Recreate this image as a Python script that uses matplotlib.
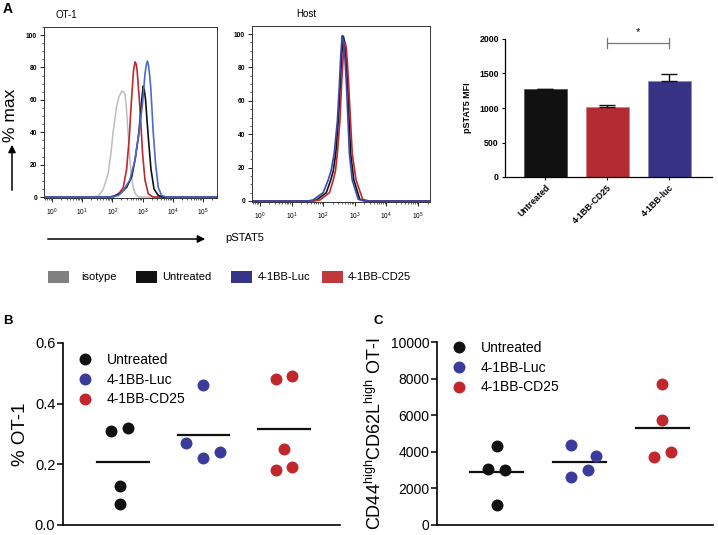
import numpy as np
import matplotlib
matplotlib.use("Agg")
import matplotlib.pyplot as plt
from matplotlib.lines import Line2D
from matplotlib.patches import Rectangle, FancyArrowPatch
from matplotlib.ticker import AutoMinorLocator, LogLocator, NullFormatter

plt.rcParams['font.family'] = ['Liberation Sans', 'DejaVu Sans']
plt.rcParams['mathtext.fontset'] = 'custom'
plt.rcParams['mathtext.rm'] = 'Liberation Sans'
plt.rcParams['mathtext.it'] = 'Liberation Sans:italic'
plt.rcParams['mathtext.bf'] = 'Liberation Sans:bold'

# ---------------- data ----------------
# Panel A, OT-1 histograms (log10 pSTAT5, % max)
ot1_iso_logx = [-0.27, 1.2, 1.53, 1.7, 1.86, 1.95, 2.03, 2.14, 2.22, 2.31, 2.37, 2.42, 2.46, 2.49, 2.54, 2.58, 2.63, 2.69, 2.76, 2.86, 5.47]
ot1_iso_y = [0, 0, 0.5, 5, 14.6, 27, 41, 56, 62, 65.4, 65, 63, 56, 47.5, 34, 23, 13, 6, 2, 0, 0]
ot1_cd25_logx = [-0.27, 2.0, 2.09, 2.25, 2.36, 2.47, 2.56, 2.60, 2.64, 2.70, 2.75, 2.79, 2.82, 2.87, 2.91, 2.96, 3.0, 3.08, 3.19, 3.35, 5.47]
ot1_cd25_y = [0, 0, 0.5, 3, 6, 17, 37, 50, 62, 78, 83.5, 82, 78, 66, 56, 40, 27, 10.5, 2, 0, 0]
ot1_untr_logx = [-0.27, 1.9, 2.03, 2.25, 2.47, 2.64, 2.75, 2.86, 2.94, 2.98, 3.02, 3.06, 3.10, 3.15, 3.19, 3.28, 3.38, 3.52, 3.69, 5.47]
ot1_untr_y = [0, 0, 0.5, 2, 6, 12.5, 23, 37, 52, 61, 68.5, 66, 60, 47, 37, 17, 5, 1, 0, 0]
ot1_luc_logx = [-0.27, 2.0, 2.2, 2.36, 2.58, 2.75, 2.89, 3.0, 3.08, 3.12, 3.16, 3.19, 3.22, 3.27, 3.31, 3.35, 3.43, 3.52, 3.63, 3.80, 5.47]
ot1_luc_y = [0, 0, 1, 4, 10.5, 23, 41, 58, 76, 81, 84, 82, 78, 68, 55, 41, 21, 6, 1, 0, 0]

# Panel A, Host histograms
host_luc_logx = [-0.25, 1.5, 1.68, 2.0, 2.16, 2.25, 2.35, 2.45, 2.51, 2.56, 2.60, 2.64, 2.69, 2.74, 2.83, 2.92, 3.11, 3.3, 5.38]
host_luc_y = [0, 0, 0.6, 5, 12.6, 18, 28.5, 48, 68.5, 88, 99, 96, 85, 68.5, 28.5, 12.6, 1, 0, 0]
host_untr_logx = [-0.25, 1.6, 1.79, 2.1, 2.24, 2.32, 2.40, 2.48, 2.54, 2.59, 2.64, 2.68, 2.73, 2.78, 2.87, 2.97, 3.16, 3.35, 5.38]
host_untr_y = [0, 0, 0.6, 5, 12.6, 18, 28.5, 48, 68.5, 88, 98.6, 95, 84, 68.5, 28.5, 12.6, 1, 0, 0]
host_cd25_logx = [-0.25, 1.7, 1.90, 2.2, 2.32, 2.39, 2.45, 2.53, 2.58, 2.64, 2.69, 2.73, 2.77, 2.81, 2.92, 3.04, 3.25, 3.45, 5.38]
host_cd25_y = [0, 0, 0.6, 5, 12.6, 18, 28.5, 48, 68.5, 88, 95.4, 92, 82, 68.5, 28.5, 12.6, 1, 0, 0]

# Panel A, bar chart
bar_labels = ["Untreated", "4-1BB-CD25", "4-1BB-luc"]
bar_values = [1270, 1010, 1390]
bar_errors = [10, 35, 100]

# Legend row
legend_labels = ["isotype", "Untreated", "4-1BB-Luc", "4-1BB-CD25"]

# Panel B
groups = ["Untreated", "4-1BB-Luc", "4-1BB-CD25"]
b_untr = [0.31, 0.32, 0.13, 0.07]
b_luc = [0.46, 0.27, 0.22, 0.24]
b_cd25 = [0.48, 0.49, 0.25, 0.18, 0.19]
b_untr_off = [-0.14, 0.06, -0.04, -0.04]
b_luc_off = [-0.01, -0.22, -0.01, 0.20]
b_cd25_off = [-0.10, 0.10, 0.0, -0.10, 0.10]

# Panel C
c_untr = [4340, 3070, 3000, 1070]
c_luc = [4380, 3760, 2980, 2600]
c_cd25 = [7690, 5730, 3980, 3710]
c_untr_off = [0.0, -0.105, 0.10, 0.0]
c_luc_off = [-0.105, 0.20, 0.10, -0.105]
c_cd25_off = [0.0, 0.0, 0.10, -0.10]

# colours
col_black = '#111111'
col_blue = '#3b3b9c'
col_red = '#c1272d'
hist_gray = '#bdbdbd'
hist_red = '#c0282d'
hist_blue1 = '#4a6acc'
hist_blue2 = '#3848b0'

W, H = 718, 535
fig = plt.figure(figsize=(W / 100, H / 100), dpi=100)


def rect(l, t, r, b):
    return [l / W, 1 - b / H, (r - l) / W, (b - t) / H]


def style_hist(ax, xlim, ylim):
    ax.set_xscale('log')
    ax.set_xlim(*xlim)
    ax.set_ylim(*ylim)
    for s in ax.spines.values():
        s.set_linewidth(0.7)
        s.set_color('#333333')
    ax.set_yticks([0, 20, 40, 60, 80, 100])
    ax.yaxis.set_minor_locator(AutoMinorLocator(4))
    ax.xaxis.set_minor_locator(LogLocator(base=10, subs=np.arange(2, 10), numticks=20))
    ax.xaxis.set_minor_formatter(NullFormatter())
    ax.set_xticks([1, 10, 100, 1e3, 1e4, 1e5])
    ax.set_xticklabels([r'$10^{%d}$' % i for i in range(6)])
    ax.tick_params(axis='both', which='major', direction='out', length=3, width=0.7,
                   labelsize=4.8, pad=2, color='#222222')
    ax.tick_params(axis='both', which='minor', direction='out', length=1.5, width=0.5, color='#222222')
    for t in ax.get_yticklabels():
        t.set_fontweight('bold')
    ax.tick_params(axis='x', pad=3)


# ---- OT-1 histogram ----
ax1 = fig.add_axes(rect(44, 27, 217, 198))
ax1.plot(np.power(10.0, ot1_iso_logx), ot1_iso_y, color=hist_gray, lw=1.1)
ax1.plot(np.power(10.0, ot1_cd25_logx), ot1_cd25_y, color=hist_red, lw=1.2)
ax1.plot(np.power(10.0, ot1_untr_logx), ot1_untr_y, color=col_black, lw=1.2)
ax1.plot(np.power(10.0, ot1_luc_logx), ot1_luc_y, color=hist_blue1, lw=1.2)
style_hist(ax1, (10 ** -0.27, 10 ** 5.47), (-0.6, 105))

# ---- Host histogram ----
ax2 = fig.add_axes(rect(252, 26, 430, 202))
ax2.plot(np.power(10.0, host_untr_logx), host_untr_y, color=col_black, lw=1.2)
ax2.plot(np.power(10.0, host_cd25_logx), host_cd25_y, color=hist_red, lw=1.2)
ax2.plot(np.power(10.0, host_luc_logx), host_luc_y, color=hist_blue2, lw=1.2)
style_hist(ax2, (10 ** -0.25, 10 ** 5.38), (-0.6, 104.8))

# Panel A texts and arrows
fig.text(3 / W, 1 - 2 / H, 'A', fontsize=10, fontweight='bold', va='top', ha='left')
fig.text(55 / W, 1 - 15 / H, 'OT-1', fontsize=7, va='center', ha='left')
fig.text(306 / W, 1 - 14 / H, 'Host', fontsize=7, va='center', ha='center')
fig.text(11 / W, 1 - 115 / H, '% max', fontsize=12.5, rotation=90, va='center', ha='center')
fig.add_artist(FancyArrowPatch((12 / W, 1 - 193 / H), (12 / W, 1 - 142 / H),
                               transform=fig.transFigure, arrowstyle='-|>',
                               mutation_scale=11, lw=1.1, color='black'))
fig.add_artist(FancyArrowPatch((45 / W, 1 - 239 / H), (208 / W, 1 - 239 / H),
                               transform=fig.transFigure, arrowstyle='-|>',
                               mutation_scale=11, lw=1.1, color='black'))
fig.text(225 / W, 1 - 238 / H, 'pSTAT5', fontsize=8, va='center', ha='left')

# ---- Bar chart ----
ax3 = fig.add_axes(rect(505, 39, 712, 177))
xb = np.arange(len(bar_values))
bar_cols = [col_black, '#b52b33', '#363384']
ax3.bar(xb, bar_values, width=0.69, color=bar_cols, edgecolor=['#555555', '#d08080', '#8a88c0'],
        linewidth=0.6, zorder=2)
ax3.errorbar(xb, bar_values, yerr=[[0, 0, 0], bar_errors], fmt='none', ecolor=col_black,
             elinewidth=1.0, capsize=6, capthick=1.0, zorder=3)
ax3.set_xlim(-0.65, 2.69)
ax3.set_ylim(0, 2000)
ax3.set_yticks([0, 500, 1000, 1500, 2000])
ax3.set_xticks(xb)
ax3.set_xticklabels(bar_labels, rotation=45, ha='right', rotation_mode='anchor')
for s in ['top', 'right']:
    ax3.spines[s].set_visible(False)
for s in ['left', 'bottom']:
    ax3.spines[s].set_linewidth(0.9)
ax3.tick_params(axis='both', direction='out', length=2.5, width=0.8, labelsize=6.3, pad=2)
for t in ax3.get_xticklabels() + ax3.get_yticklabels():
    t.set_fontweight('bold')
ax3.set_ylabel('pSTAT5 MFI', fontsize=6.5, fontweight='bold', labelpad=5)
# significance bracket
ax3.plot([1, 2], [1938, 1938], color='#777777', lw=0.9, clip_on=False)
ax3.plot([1, 1], [1865, 2010], color='#777777', lw=0.9, clip_on=False)
ax3.plot([2, 2], [1865, 2010], color='#777777', lw=0.9, clip_on=False)
ax3.text(1.5, 2030, '*', fontsize=8, ha='center', va='bottom', clip_on=False)

# ---- Legend row ----
leg_patch_x = [48, 136, 231, 322]
leg_text_x = [81, 162, 258, 348]
leg_cols = ['#808080', col_black, '#373387', '#c0393a']
for px, tx, lab, c in zip(leg_patch_x, leg_text_x, legend_labels, leg_cols):
    fig.add_artist(Rectangle((px / W, 1 - 283 / H), 21 / W, 12 / H, transform=fig.transFigure,
                             facecolor=c, edgecolor='none'))
    fig.text(tx / W, 1 - 277 / H, lab, fontsize=8, va='center', ha='left')


# ---- Panel B / C ----
def scatter_panel(ax, data, offs, ylim, yticks, ylabel, xlim, leg_anchor, ylab_size):
    cols = [col_black, col_blue, col_red]
    for i, (vals, off, c) in enumerate(zip(data, offs, cols)):
        ax.plot(i + np.array(off), vals, 'o', ms=8.6, color=c, mec='none', zorder=3)
        m = np.mean(vals)
        ax.plot([i - 0.32, i + 0.32], [m, m], color=col_black, lw=1.6, zorder=2)
    ax.set_xlim(*xlim)
    ax.set_ylim(*ylim)
    ax.set_yticks(yticks)
    ax.set_xticks([])
    for s in ['top', 'right']:
        ax.spines[s].set_visible(False)
    for s in ['left', 'bottom']:
        ax.spines[s].set_linewidth(1.2)
    ax.tick_params(axis='y', direction='out', length=4, width=1.1, pad=1.5)
    ax.set_ylabel(ylabel, fontsize=ylab_size, labelpad=4)
    handles = [Line2D([], [], marker='o', ls='none', ms=8.6, color=c, mec='none') for c in cols]
    ax.legend(handles, groups, loc='upper left', bbox_to_anchor=leg_anchor, frameon=False,
              fontsize=10, handletextpad=0.95, labelspacing=0.42, borderaxespad=0.3, handlelength=1.2)


axB = fig.add_axes(rect(63, 343, 340, 525))
scatter_panel(axB, [b_untr, b_luc, b_cd25], [b_untr_off, b_luc_off, b_cd25_off],
              (0, 0.6), [0.0, 0.2, 0.4, 0.6], '% OT-1', (-0.74, 2.69), (0.015, 1.0), 13.5)
axB.set_yticklabels(['0.0', '0.2', '0.4', '0.6'])
axB.tick_params(axis='y', labelsize=10.5)

axC = fig.add_axes(rect(437, 342, 713, 525))
scatter_panel(axC, [c_untr, c_luc, c_cd25], [c_untr_off, c_luc_off, c_cd25_off],
              (0, 10000), [0, 2000, 4000, 6000, 8000, 10000],
              r'CD44$^{\mathrm{high}}$CD62L$^{\mathrm{high}}$ OT-I', (-0.72, 2.61), (0.015, 1.06), 13)
axC.tick_params(axis='y', labelsize=10)

fig.text(3 / W, 1 - 321 / H, 'B', fontsize=9.5, fontweight='bold', va='center', ha='left')
fig.text(373 / W, 1 - 321 / H, 'C', fontsize=9.5, fontweight='bold', va='center', ha='left')

fig.savefig('out.png', dpi=100)
